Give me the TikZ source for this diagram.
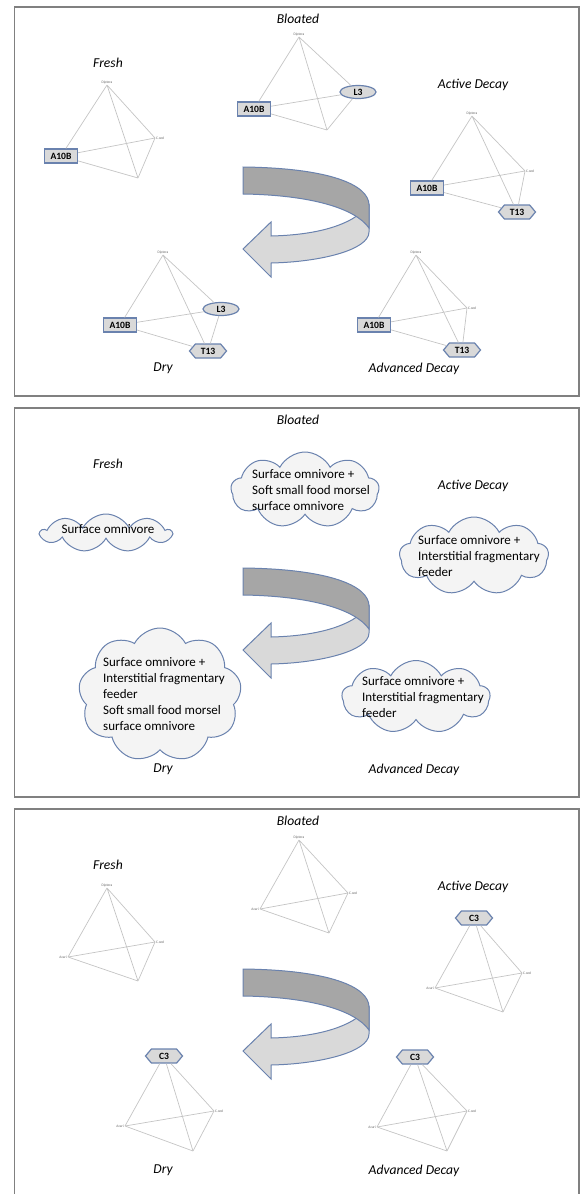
\documentclass[tikz,border=0pt]{standalone}
\usepackage{fontspec}
\setmainfont{Carlito}
\usepackage{xcolor}
\usepackage{tikz}
\usetikzlibrary{shapes.symbols,shapes.geometric,positioning}

\definecolor{shapeline}{HTML}{6A82AE}
\definecolor{shapefill}{HTML}{D9D9D9}
\definecolor{backfill}{HTML}{A6A6A6}
\definecolor{cloudfill}{HTML}{F4F4F4}
\definecolor{edgegray}{HTML}{C4C4C4}

\begin{document}
\begin{tikzpicture}[
    x=0.5pt, y=-0.5pt,
    stage/.style={font=\fontsize{6.8}{8}\selectfont\itshape},
    taxbox/.style={rectangle, draw=shapeline, fill=shapefill, line width=0.6pt, minimum width=16.5pt, minimum height=7pt, inner sep=0pt, font=\fontsize{4.8}{5}\selectfont\bfseries},
    taxoval/.style={ellipse, draw=shapeline, fill=shapefill, line width=0.6pt, minimum width=18pt, minimum height=6.5pt, inner sep=0pt, font=\fontsize{4.8}{5}\selectfont\bfseries},
    taxhex/.style={signal, signal to=west and east, signal pointer angle=100, draw=shapeline, fill=shapefill, line width=0.6pt, minimum width=18.5pt, minimum height=7pt, inner sep=0pt, font=\fontsize{4.8}{5}\selectfont\bfseries},
    vlabel/.style={font=\fontsize{1.8}{2}\selectfont, text=black!60, inner sep=0.4pt},
    link/.style={draw=edgegray, line width=0.35pt},
    guild/.style={cloud, cloud puffs=9, cloud puff arc=125, cloud ignores aspect, draw=shapeline, fill=cloudfill, line width=0.5pt, inner sep=0pt},
    guildtext/.style={align=left, inner sep=0pt, font=\fontsize{6.5}{8}\selectfont},
    frame/.style={draw=black!50, line width=0.6pt},
    backband/.style={fill=backfill, draw=shapeline, line width=0.5pt},
    frontband/.style={fill=shapefill, draw=shapeline, line width=0.5pt}
]
    \useasboundingbox (0,0) rectangle (580,1194);
    \clip (0,0) rectangle (580,1194);

    % Panels: frame, stage names and turning arrow
    \foreach \dy in {0,401,802} {
        \begin{scope}[shift={(0,\dy)}]
            \draw[frame] (14.5,7) rectangle (579,396);
            \node[stage] (bloated\dy) at (298,19) {Bloated};
            \node[stage] (fresh\dy) at (108,63) {Fresh};
            \node[stage] (active\dy) at (473,85) {Active Decay};
            \node[stage] (dry\dy) at (163,368) {Dry};
            \node[stage] (advanced\dy) at (414,369) {Advanced Decay};
            \path[frontband] (271,236) .. controls (315,235) and (352,226) .. (369,205) -- (369,232) .. controls (369,250) and (320,262) .. (271,263) -- (271,277) -- (243,249) -- (271,222) -- cycle;
            \path[backband] (243,167) .. controls (330,168) and (369,185) .. (369,205) -- (369,228) .. controls (355,208) and (310,195) .. (243,194) -- cycle;
        \end{scope}
    }

    % Panel 1: Fresh
    \coordinate (fa-t) at (107,85);
    \coordinate (fa-r) at (155,138);
    \coordinate (fa-b) at (138,178);
    \node[taxbox] (fa-l) at (61,156) {A10B};
    \node[vlabel, above=0pt of fa-t] {Diptera};
    \node[vlabel, right=0pt of fa-r] {C.sed};
    \draw[link] (fa-t) -- (fa-l) (fa-t) -- (fa-r) (fa-t) -- (fa-b) (fa-l) -- (fa-r) (fa-l) -- (fa-b) (fa-r) -- (fa-b);

    % Panel 1: Bloated
    \coordinate (ba-t) at (299,37);
    \coordinate (ba-b) at (327,130);
    \node[taxoval] (ba-r) at (358,92) {L3};
    \node[taxbox] (ba-l) at (254,109) {A10B};
    \node[vlabel, above=0pt of ba-t] {Diptera};
    \draw[link] (ba-t) -- (ba-l) (ba-t) -- (ba-r) (ba-t) -- (ba-b) (ba-l) -- (ba-r) (ba-l) -- (ba-b) (ba-r) -- (ba-b);

    % Panel 1: Active Decay
    \coordinate (aa-t) at (472,116);
    \coordinate (aa-r) at (525,171);
    \node[taxbox] (aa-l) at (427,188) {A10B};
    \node[taxhex] (aa-b) at (517,212) {T13};
    \node[vlabel, above=0pt of aa-t] {Diptera};
    \node[vlabel, right=0pt of aa-r] {C.sed};
    \draw[link] (aa-t) -- (aa-l) (aa-t) -- (aa-r) (aa-t) -- (aa-b) (aa-l) -- (aa-r) (aa-l) -- (aa-b) (aa-r) -- (aa-b);

    % Panel 1: Dry
    \coordinate (da-t) at (163,255);
    \node[taxoval] (da-r) at (221,309) {L3};
    \node[taxbox] (da-l) at (120,325) {A10B};
    \node[taxhex] (da-b) at (208,351) {T13};
    \node[vlabel, above=0pt of da-t] {Diptera};
    \draw[link] (da-t) -- (da-l) (da-t) -- (da-r) (da-t) -- (da-b) (da-l) -- (da-r) (da-l) -- (da-b) (da-r) -- (da-b);

    % Panel 1: Advanced Decay
    \coordinate (va-t) at (416,255);
    \coordinate (va-r) at (467,308);
    \node[taxbox] (va-l) at (374,325) {A10B};
    \node[taxhex] (va-b) at (462,350) {T13};
    \node[vlabel, above=0pt of va-t] {Diptera};
    \node[vlabel, right=0pt of va-r] {C.sed};
    \draw[link] (va-t) -- (va-l) (va-t) -- (va-r) (va-t) -- (va-b) (va-l) -- (va-r) (va-l) -- (va-b) (va-r) -- (va-b);

    % Panel 2: feeding guilds
    \node[guild, minimum width=65pt, minimum height=19pt] (fresh-guild) at (106,533) {};
    \node[guildtext] (fresh-text) at (108,529) {Surface omnivore};
    \node[guild, minimum width=74pt, minimum height=38pt] (bloated-guild) at (305,490) {};
    \node[guildtext] (bloated-text) at (311,490) {Surface omnivore +\\Soft small food morsel\\surface omnivore};
    \node[guild, minimum width=74.5pt, minimum height=39pt] (active-guild) at (474,556) {};
    \node[guildtext] (active-text) at (479,556) {Surface omnivore +\\Interstitial fragmentary\\feeder};
    \node[guild, minimum width=81.5pt, minimum height=67pt] (dry-guild) at (160,695) {};
    \node[guildtext] (dry-text) at (164,694) {Surface omnivore +\\Interstitial fragmentary\\feeder\\Soft small food morsel\\surface omnivore};
    \node[guild, minimum width=74pt, minimum height=36.5pt] (advanced-guild) at (416,697) {};
    \node[guildtext] (advanced-text) at (423,697) {Surface omnivore +\\Interstitial fragmentary\\feeder};

    % Panel 3: Fresh
    \coordinate (fc-t) at (107,888);
    \coordinate (fc-r) at (155,942);
    \coordinate (fc-l) at (68,957);
    \coordinate (fc-b) at (138,981);
    \node[vlabel, above=0pt of fc-t] {Diptera};
    \node[vlabel, right=0pt of fc-r] {C.sed};
    \node[vlabel, left=0pt of fc-l] {Acari};
    \draw[link] (fc-t) -- (fc-l) (fc-t) -- (fc-r) (fc-t) -- (fc-b) (fc-l) -- (fc-r) (fc-l) -- (fc-b) (fc-r) -- (fc-b);

    % Panel 3: Bloated
    \coordinate (bc-t) at (299,840);
    \coordinate (bc-r) at (348,893);
    \coordinate (bc-l) at (260,909);
    \coordinate (bc-b) at (329,933);
    \node[vlabel, above=0pt of bc-t] {Diptera};
    \node[vlabel, right=0pt of bc-r] {C.sed};
    \node[vlabel, left=0pt of bc-l] {Acari};
    \draw[link] (bc-t) -- (bc-l) (bc-t) -- (bc-r) (bc-t) -- (bc-b) (bc-l) -- (bc-r) (bc-l) -- (bc-b) (bc-r) -- (bc-b);

    % Panel 3: Active Decay
    \node[taxhex] (ac-t) at (474,918) {C3};
    \coordinate (ac-r) at (522,973);
    \coordinate (ac-l) at (435,988);
    \coordinate (ac-b) at (503,1012);
    \node[vlabel, right=0pt of ac-r] {C.sed};
    \node[vlabel, left=0pt of ac-l] {Acari};
    \draw[link] (ac-t) -- (ac-l) (ac-t) -- (ac-r) (ac-t) -- (ac-b) (ac-l) -- (ac-r) (ac-l) -- (ac-b) (ac-r) -- (ac-b);

    % Panel 3: Dry
    \node[taxhex] (dc-t) at (164,1056) {C3};
    \coordinate (dc-r) at (214,1111);
    \coordinate (dc-l) at (125,1126);
    \coordinate (dc-b) at (193,1151);
    \node[vlabel, right=0pt of dc-r] {C.sed};
    \node[vlabel, left=0pt of dc-l] {Acari};
    \draw[link] (dc-t) -- (dc-l) (dc-t) -- (dc-r) (dc-t) -- (dc-b) (dc-l) -- (dc-r) (dc-l) -- (dc-b) (dc-r) -- (dc-b);

    % Panel 3: Advanced Decay
    \node[taxhex] (vc-t) at (415,1057) {C3};
    \coordinate (vc-r) at (467,1111);
    \coordinate (vc-l) at (377,1127);
    \coordinate (vc-b) at (447,1151);
    \node[vlabel, right=0pt of vc-r] {C.sed};
    \node[vlabel, left=0pt of vc-l] {Acari};
    \draw[link] (vc-t) -- (vc-l) (vc-t) -- (vc-r) (vc-t) -- (vc-b) (vc-l) -- (vc-r) (vc-l) -- (vc-b) (vc-r) -- (vc-b);

\end{tikzpicture}
\end{document}
